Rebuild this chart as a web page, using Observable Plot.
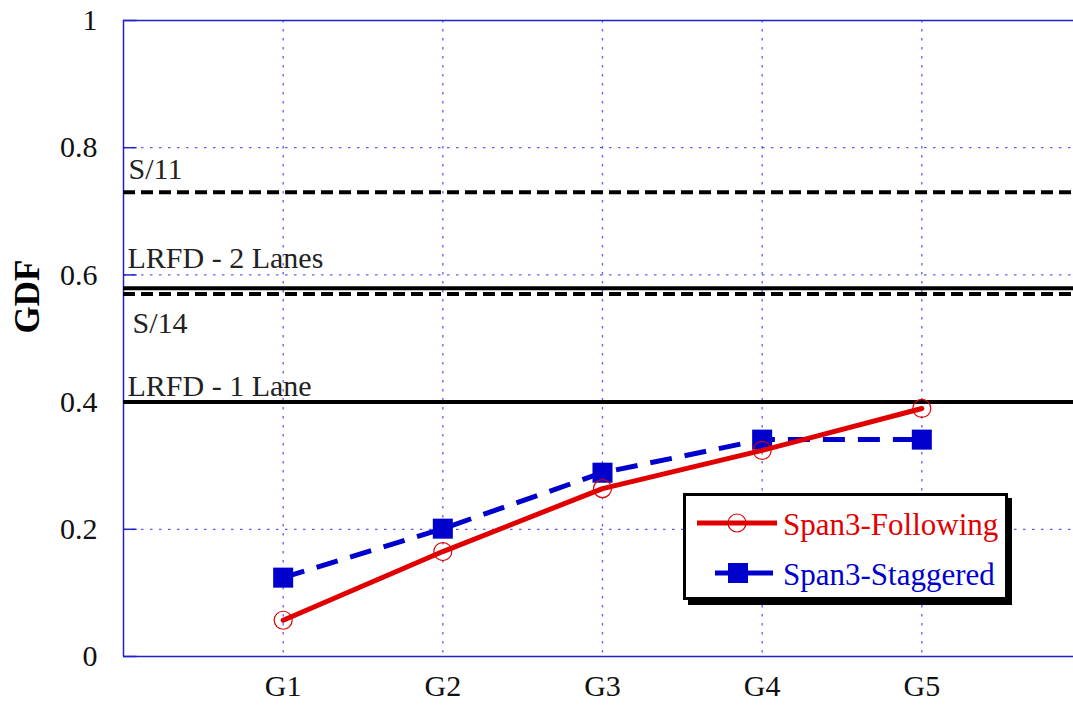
<!DOCTYPE html>
<html>
<head>
<meta charset="utf-8">
<script src="https://cdn.jsdelivr.net/npm/d3@7"></script>
<script src="https://cdn.jsdelivr.net/npm/@observablehq/plot@0.6"></script>
<style>
  html, body { margin: 0; padding: 0; background: white; }
  #wrap { position: relative; width: 1073px; height: 706px; }
  #legend { position: absolute; left: 680px; top: 490px; }
</style>
</head>
<body>
<div id="wrap"></div>
<script>
// ---- data ----
const categories = ["G1", "G2", "G3", "G4", "G5"];
const seriesNames = ["Span3-Following", "Span3-Staggered"];
const following = [0.057, 0.165, 0.264, 0.324, 0.39];
const staggered = [0.124, 0.201, 0.289, 0.341, 0.341];
const refNames = ["S/11", "LRFD - 2 Lanes", "S/14", "LRFD - 1 Lane"];
const refValues = [0.73, 0.579, 0.570, 0.40];
const refDashed = [true, false, true, false];
const yTicks = [0, 0.2, 0.4, 0.6, 0.8, 1];
const yTickLabels = ["0", "0.2", "0.4", "0.6", "0.8", "1"];
const yLabel = "GDF";

// ---- styling ----
const RED = "#e00000";
const BLUE = "#0000cc";
const AXIS = "#2020cc";
const GRID = "#4040ff";
const FONT = "'Liberation Serif', 'Times New Roman', serif";
const refLabelOffsets = [[5, -23], [4, -30], [9, 29], [4, -16]];

const rows = categories.map((c, i) => ({x: i + 1, cat: c, following: following[i], staggered: staggered[i]}));
const refs = refNames.map((n, i) => ({name: n, value: refValues[i], dashed: refDashed[i]}));
const xTicks = categories.map((c, i) => i + 1);
const xFmt = (d) => categories[Math.round(d) - 1];
const yFmt = (d) => yTickLabels[yTicks.findIndex(t => Math.abs(t - d) < 1e-9)];

const chart = Plot.plot({
  width: 1073,
  height: 706,
  marginLeft: 123,
  marginRight: 0,
  marginTop: 20,
  marginBottom: 50,
  style: {fontFamily: FONT, fontSize: "30px", background: "white", color: "#111", overflow: "visible"},
  x: {domain: [0, 5.95]},
  y: {domain: [0, 1]},
  marks: [
    Plot.gridY(yTicks.filter(d => d > 0 && d < 1), {stroke: GRID, strokeOpacity: 0.85, strokeWidth: 1.3, strokeDasharray: "2.5,6.5"}),
    Plot.gridX(xTicks, {stroke: GRID, strokeOpacity: 0.85, strokeWidth: 1.3, strokeDasharray: "2.5,6.5"}),
    Plot.ruleY([0, 1], {stroke: AXIS, strokeWidth: 1.5}),
    Plot.ruleX([0], {stroke: AXIS, strokeWidth: 1.5}),
    Plot.ruleY(yTicks, {x1: 0, x2: 0.085, stroke: AXIS, strokeWidth: 1.5}),
    Plot.ruleY(refs.filter(d => d.dashed), {y: "value", stroke: "black", strokeWidth: 4, strokeDasharray: "12,6"}),
    Plot.ruleY(refs.filter(d => !d.dashed), {y: "value", stroke: "black", strokeWidth: 4}),
    ...refs.map((r, i) => Plot.text([r], {
      y: "value", frameAnchor: "left", text: "name", textAnchor: "start",
      dx: refLabelOffsets[i][0], dy: refLabelOffsets[i][1], fill: "#222", fontSize: 30
    })),
    Plot.line(rows, {x: "x", y: "staggered", stroke: BLUE, strokeWidth: 5, strokeDasharray: "22,13", strokeLinecap: "butt"}),
    Plot.dot(rows, {x: "x", y: "staggered", symbol: "square", r: 11.3, fill: BLUE, stroke: "none"}),
    Plot.line(rows, {x: "x", y: "following", stroke: RED, strokeWidth: 5}),
    Plot.dot(rows, {x: "x", y: "following", r: 9, fill: "none", stroke: RED, strokeWidth: 1.2}),
    Plot.axisY(yTicks, {tickFormat: yFmt, tickSize: 0, tickPadding: 26, label: null, fontSize: 30, fill: "#111"}),
    Plot.axisX(xTicks, {tickFormat: xFmt, tickSize: 0, tickPadding: 18, label: null, fontSize: 30, fill: "#111"}),
    Plot.text([yLabel], {frameAnchor: "left", dx: -96, dy: -5, rotate: -90, fontWeight: "bold", fontSize: 35, fill: "black"})
  ]
});

const wrap = document.getElementById("wrap");
wrap.appendChild(chart);

// ---- legend ----
const leg = d3.create("svg").attr("id", "legend").attr("width", 340).attr("height", 125)
  .style("font-family", FONT);
leg.append("rect").attr("x", 8).attr("y", 8).attr("width", 324).attr("height", 107).attr("fill", "black");
leg.append("rect").attr("x", 4.5).attr("y", 4.5).attr("width", 322).attr("height", 104)
  .attr("fill", "white").attr("stroke", "black").attr("stroke-width", 3);
// row 1
leg.append("line").attr("x1", 17).attr("x2", 97).attr("y1", 33).attr("y2", 33).attr("stroke", RED).attr("stroke-width", 5);
leg.append("circle").attr("cx", 57).attr("cy", 33).attr("r", 9).attr("fill", "none").attr("stroke", RED).attr("stroke-width", 1.2);
leg.append("text").attr("x", 103).attr("y", 45).attr("fill", RED).attr("font-size", 31).text(seriesNames[0]);
// row 2
leg.append("line").attr("x1", 35).attr("x2", 93).attr("y1", 83).attr("y2", 83).attr("stroke", BLUE).attr("stroke-width", 5);
leg.append("rect").attr("x", 48).attr("y", 73).attr("width", 20).attr("height", 20).attr("fill", BLUE);
leg.append("text").attr("x", 103).attr("y", 95).attr("fill", BLUE).attr("font-size", 31).text(seriesNames[1]);
wrap.appendChild(leg.node());
</script>
</body>
</html>
